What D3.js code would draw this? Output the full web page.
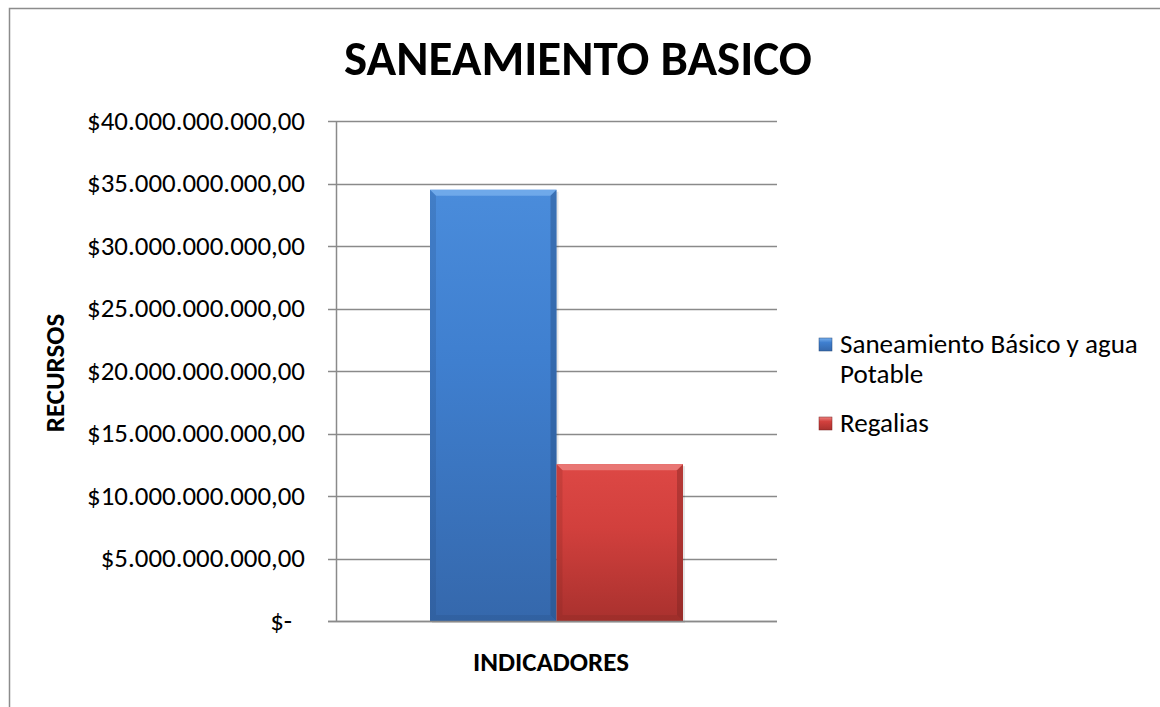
<!DOCTYPE html>
<html>
<head>
<meta charset="utf-8">
<script src="https://cdn.jsdelivr.net/npm/d3@7"></script>
<style>
  body { margin: 0; background: #fff; }
  text { font-family: Carlito, Calibri, Lato, "Open Sans", sans-serif; }
</style>
</head>
<body>
<svg id="chart" width="1160" height="707"></svg>
<script>
// chart data
const seriesNames = ["Saneamiento Básico y agua Potable", "Regalias"];
const seriesValues = [34500000000, 12550000000];
const yTicks = [0, 5e9, 10e9, 15e9, 20e9, 25e9, 30e9, 35e9, 40e9];
const legendLines = [["Saneamiento Básico y agua", "Potable"], ["Regalias"]];

const plot = {left: 336, right: 777, top: 121, bottom: 621};

const svg = d3.select("#chart");
const defs = svg.append("defs");

// size a font so a sample string spans a given width
function fitSize(sample, target, weight) {
  const t = svg.append("text").attr("font-size", 20).attr("font-weight", weight || "normal").text(sample);
  const len = t.node().getComputedTextLength();
  t.remove();
  return 20 * target / len;
}

const tickSize = fitSize("$40.000.000.000,00", 218);
const titleSize = fitSize("SANEAMIENTO BASICO", 468, "bold");
const axisTitleSize = fitSize("INDICADORES", 156, "bold");
const legendSize = fitSize("Saneamiento Básico y agua", 298);

const colors = [
  {top: "#4A8CDB", mid: "#3F7FCF", bot: "#3568AC", light: "#78B0EE", dark: "#24487A"},
  {top: "#DD4845", mid: "#D2403D", bot: "#A9312E", light: "#EC8280", dark: "#7A2220"}
];

colors.forEach(function(c, i) {
  const g = defs.append("linearGradient").attr("id", "grad" + i)
    .attr("x1", 0).attr("y1", 0).attr("x2", 0).attr("y2", 1);
  g.append("stop").attr("offset", "0%").attr("stop-color", c.top);
  g.append("stop").attr("offset", "40%").attr("stop-color", c.mid);
  g.append("stop").attr("offset", "100%").attr("stop-color", c.bot);
});

// outer border
svg.append("rect")
  .attr("x", 9.5).attr("y", 8.5)
  .attr("width", 1300).attr("height", 900)
  .attr("fill", "none").attr("stroke", "#8c8c8c").attr("stroke-width", 1.5);

const locale = d3.formatLocale({decimal: ",", thousands: ".", grouping: [3], currency: ["$", ""]});
const fmt = locale.format("$,.2f");

const y = d3.scaleLinear().domain([0, 40e9]).range([plot.bottom, plot.top]);
const x1 = d3.scaleBand().domain(seriesNames).range([430, 683]).padding(0);

// gridlines
svg.append("g").selectAll("line").data(yTicks).enter().append("line")
  .attr("x1", plot.left - 8).attr("x2", plot.right)
  .attr("y1", d => Math.round(y(d)) + 0.5).attr("y2", d => Math.round(y(d)) + 0.5)
  .attr("stroke", "#8a8a8a").attr("stroke-width", 1.5);

// vertical axis line
svg.append("line")
  .attr("x1", plot.left + 0.5).attr("x2", plot.left + 0.5)
  .attr("y1", plot.top).attr("y2", plot.bottom)
  .attr("stroke", "#8a8a8a").attr("stroke-width", 1.5);

// tick labels
svg.append("g").selectAll("text").data(yTicks).enter().append("text")
  .attr("x", d => d === 0 ? 292 : 305)
  .attr("y", d => y(d) + tickSize * 0.33)
  .attr("text-anchor", "end")
  .attr("font-size", tickSize)
  .attr("fill", "#000")
  .text(d => d === 0 ? "$-" : fmt(d));

// bars
const bars = svg.append("g");
seriesValues.forEach(function(v, i) {
  const bx = x1(seriesNames[i]), bw = x1.bandwidth();
  const by = y(v), bh = plot.bottom - by;
  const c = colors[i];
  const b = 6;
  // shadow
  bars.append("rect").attr("x", bx + 2).attr("y", by + 2).attr("width", bw).attr("height", bh)
    .attr("fill", "#000").attr("opacity", 0.1);
  bars.append("rect").attr("x", bx).attr("y", by).attr("width", bw).attr("height", bh)
    .attr("fill", "url(#grad" + i + ")");
  // top bevel
  bars.append("path")
    .attr("d", `M${bx},${by}L${bx + bw},${by}L${bx + bw - b},${by + b}L${bx + b},${by + b}Z`)
    .attr("fill", c.light).attr("opacity", 0.8);
  // left bevel
  bars.append("path")
    .attr("d", `M${bx},${by}L${bx + b},${by + b}L${bx + b},${by + bh - b}L${bx},${by + bh}Z`)
    .attr("fill", c.dark).attr("opacity", 0.2);
  // right bevel
  bars.append("path")
    .attr("d", `M${bx + bw},${by}L${bx + bw - b},${by + b}L${bx + bw - b},${by + bh - b}L${bx + bw},${by + bh}Z`)
    .attr("fill", c.dark).attr("opacity", 0.4);
  // bottom bevel
  bars.append("path")
    .attr("d", `M${bx},${by + bh}L${bx + b},${by + bh - b}L${bx + bw - b},${by + bh - b}L${bx + bw},${by + bh}Z`)
    .attr("fill", c.dark).attr("opacity", 0.2);
});

// bottom axis line drawn over bars
svg.append("line")
  .attr("x1", plot.left - 8).attr("x2", plot.right)
  .attr("y1", plot.bottom + 0.5).attr("y2", plot.bottom + 0.5)
  .attr("stroke", "#8a8a8a").attr("stroke-width", 1.5);

// title
svg.append("text")
  .attr("x", 578).attr("y", 75)
  .attr("text-anchor", "middle")
  .attr("font-size", titleSize).attr("font-weight", "bold")
  .text("SANEAMIENTO BASICO");

// axis titles
svg.append("text")
  .attr("transform", "translate(64,373)rotate(-90)")
  .attr("text-anchor", "middle")
  .attr("font-size", axisTitleSize).attr("font-weight", "bold")
  .text("RECURSOS");

svg.append("text")
  .attr("x", 551).attr("y", 671)
  .attr("text-anchor", "middle")
  .attr("font-size", axisTitleSize).attr("font-weight", "bold")
  .text("INDICADORES");

// legend
const legendY = [353, 432];
legendLines.forEach(function(lines, i) {
  const c = colors[i];
  const gy = legendY[i];
  defs.append("linearGradient").attr("id", "lg" + i)
    .attr("x1", 0).attr("y1", 0).attr("x2", 0).attr("y2", 1)
    .call(g => {
      g.append("stop").attr("offset", "0%").attr("stop-color", c.light);
      g.append("stop").attr("offset", "35%").attr("stop-color", c.mid);
      g.append("stop").attr("offset", "100%").attr("stop-color", c.bot);
    });
  svg.append("rect").attr("x", 819).attr("y", gy - 15).attr("width", 13).attr("height", 13)
    .attr("fill", "url(#lg" + i + ")").attr("stroke", c.dark).attr("stroke-width", 0.5);
  lines.forEach(function(t, j) {
    svg.append("text").attr("x", 840).attr("y", gy + j * 30)
      .attr("font-size", legendSize).text(t);
  });
});
</script>
</body>
</html>
